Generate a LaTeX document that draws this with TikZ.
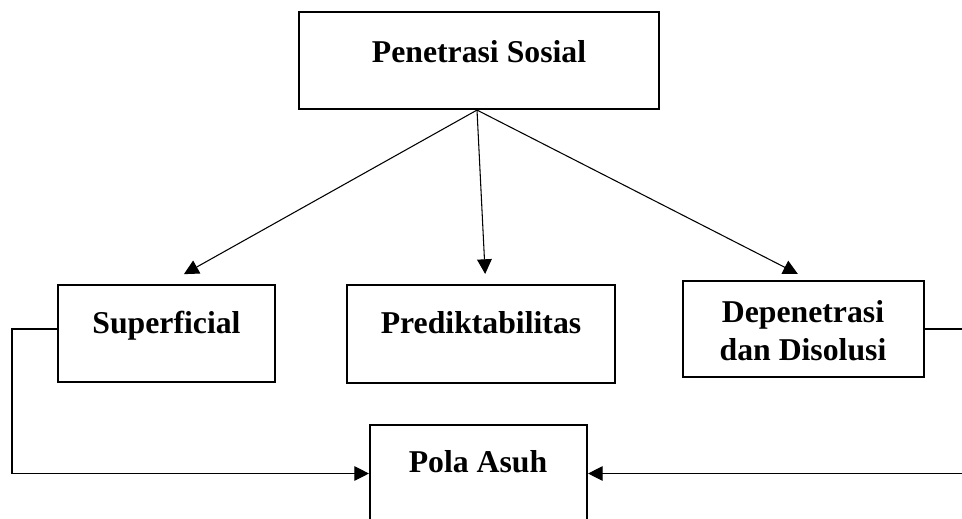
\documentclass[tikz,border=0pt]{standalone}
\usepackage{fontspec}
\setmainfont{Liberation Serif}
\usetikzlibrary{arrows.meta,calc}
\begin{document}
\begin{tikzpicture}[x=0.75pt,y=-0.75pt,
  boxnode/.style={draw=black,line width=1.6pt,fill=white,inner sep=0pt,rectangle},
  txt/.style={font=\fontsize{23.8}{28.5}\selectfont\bfseries,anchor=base,inner sep=0pt,align=center},
  conn/.style={draw=black,line width=0.8pt},
  arr/.style={conn,-{Triangle[length=11pt,width=11pt]}}]
\useasboundingbox (0,0) rectangle (962,518);
\clip (0,0) rectangle (962,518);
% boxes
\node[boxnode,minimum width=360*0.75pt,minimum height=97*0.75pt] (ps) at (479,60.5) {};
\node[boxnode,minimum width=217*0.75pt,minimum height=97*0.75pt] (sup) at (166.5,333.5) {};
\node[boxnode,minimum width=268*0.75pt,minimum height=98*0.75pt] (pred) at (481,334) {};
\node[boxnode,minimum width=241*0.75pt,minimum height=96*0.75pt] (dep) at (803.5,329) {};
\node[boxnode,minimum width=217*0.75pt,minimum height=97*0.75pt] (pola) at (478.5,473.5) {};
% texts
\node[txt] (tps) at (479,62) {Penetrasi Sosial};
\node[txt] (tsup) at (166.5,333) {Superficial};
\node[txt] (tpred) at (481,333) {Prediktabilitas};
\node[txt] (tdep1) at (803,322.5) {Depenetrasi};
\node[txt] (tdep2) at (803,360) {dan Disolusi};
\node[txt] (tpola) at (478,472.5) {Pola Asuh};
% connectors
\coordinate (o) at ([xshift=-1.5pt]ps.south);
\draw[arr,shorten >=15pt] (o) -- (sup.north);
\draw[arr,shorten >=7.5pt] (o) -- ([xshift=3.5pt]pred.north);
\draw[arr,shorten >=9.8pt] (o) -- ([xshift=4.5pt]dep.north);
\coordinate (lft) at (12,473.5);
\coordinate (rgt) at (966,473.5);
\draw[arr] ([yshift=3.4pt]sup.west) -| (lft) -- (pola.west);
\draw[arr] (dep.east) -| (rgt) -- (pola.east);
\end{tikzpicture}
\end{document}
